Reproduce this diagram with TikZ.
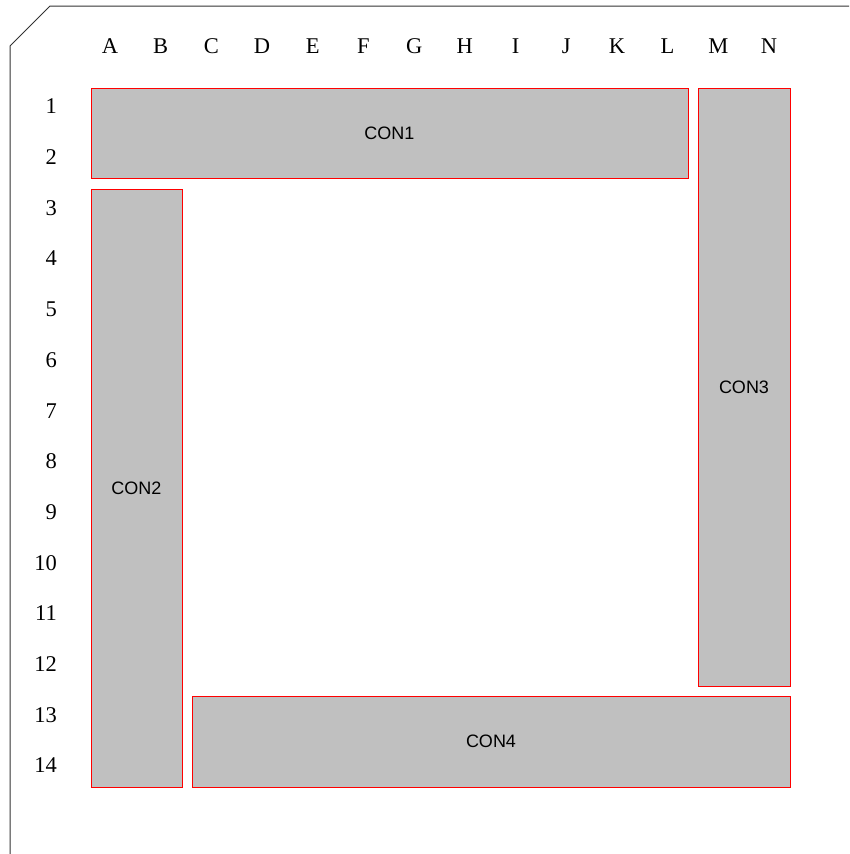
\documentclass[tikz,border=0pt]{standalone}
\usepackage{fontspec}
\setmainfont{Liberation Serif}
\newfontfamily\labelsans{Liberation Sans}
\begin{document}
\begin{tikzpicture}[x=1pt,y=-1pt,
  gridlbl/.style={inner sep=0pt,font=\fontsize{22.5}{24}\selectfont},
  conbox/.style={draw=red,fill={rgb,255:red,192;green,192;blue,192},line width=0.8pt},
  conlbl/.style={font=\labelsans\fontsize{18}{20}\selectfont,inner sep=0pt},
  outline/.style={draw={rgb,255:red,50;green,50;blue,50},line width=1pt}]
\useasboundingbox (0,0) rectangle (849,854);
% outline
\coordinate (o1) at (849,6);
\coordinate (o2) at (50,6);
\coordinate (o3) at (10,46);
\coordinate (o4) at (10,854);
\draw[outline] (o1) -- (o2) -- (o3) -- (o4);
% column letters
\foreach \l [count=\i from 0] in {A,B,C,D,E,F,G,H,I,J,K,L,M,N}
  \node[gridlbl] (col\l) at ({110+\i*50.69},46) {\l};
% row numbers
\foreach \r in {1,...,14}
  \node[gridlbl,anchor=east] (row\r) at (57,{106.5+(\r-1)*50.69}) {\r};
% boxes
\draw[conbox] (91,88) rectangle (688,178);
\node[conlbl] (con1) at (389.5,133) {CON1};
\draw[conbox] (91,189) rectangle (182,787);
\node[conlbl] (con2) at (136.5,488) {CON2};
\draw[conbox] (698,88) rectangle (790,686);
\node[conlbl] (con3) at (744,387) {CON3};
\draw[conbox] (192,696) rectangle (790,787);
\node[conlbl] (con4) at (491,741.5) {CON4};
\end{tikzpicture}
\end{document}
